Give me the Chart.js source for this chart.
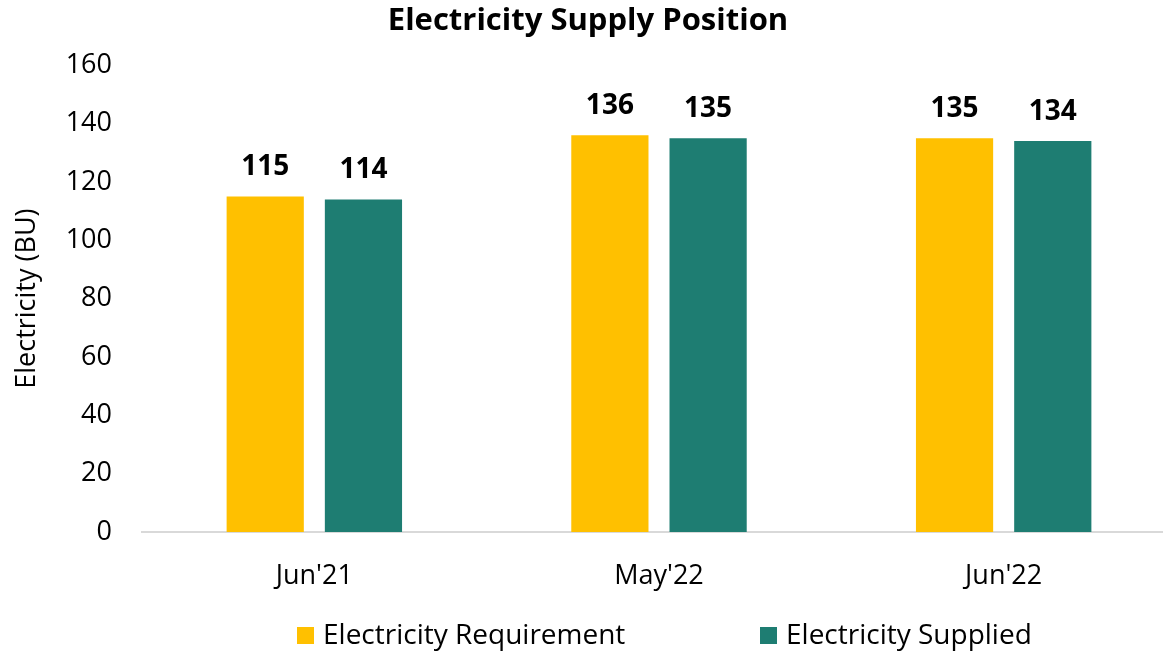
<!DOCTYPE html>
<html>
<head>
<meta charset="utf-8">
<script src="https://cdn.jsdelivr.net/npm/chart.js@4.4.0/dist/chart.umd.min.js"></script>
<style>
  html, body { margin: 0; padding: 0; background: #fff; overflow: hidden; }
  #wrap { width: 1176px; height: 654px; }
</style>
</head>
<body>
<div id="wrap"><canvas id="supplyChart" width="1176" height="654"></canvas></div>
<script>
// Electricity supply position (BU)
const categories = ["Jun'21", "May'22", "Jun'22"];
const requirement = [115, 136, 135];
const supplied = [114, 135, 134];
const seriesNames = ['Electricity Requirement', 'Electricity Supplied'];
const yTicks = [0, 20, 40, 60, 80, 100, 120, 140, 160];

const FONT = "'Open Sans', 'Noto Sans', sans-serif";
const YELLOW = '#FFC000';
const TEAL = '#1E7D72';

// value labels above each bar
const barValueLabels = {
    id: 'barValueLabels',
    afterDatasetsDraw(chart) {
        const ctx = chart.ctx;
        ctx.save();
        ctx.font = 'bold 28px ' + FONT;
        ctx.fillStyle = '#000';
        ctx.textAlign = 'center';
        ctx.textBaseline = 'middle';
        chart.data.datasets.forEach((ds, i) => {
            chart.getDatasetMeta(i).data.forEach((bar, j) => {
                ctx.fillText(String(ds.data[j]), bar.x, bar.y - 29);
            });
        });
        ctx.restore();
    }
};

// legend drawn at the bottom, spaced like the original
const bottomLegend = {
    id: 'bottomLegend',
    afterDraw(chart) {
        const ctx = chart.ctx;
        const starts = [297, 760];
        const y = 636;
        ctx.save();
        ctx.font = '28px ' + FONT;
        ctx.textBaseline = 'middle';
        ctx.textAlign = 'left';
        chart.data.datasets.forEach((ds, i) => {
            ctx.fillStyle = ds.backgroundColor;
            ctx.fillRect(starts[i], y - 9, 17, 17);
            ctx.fillStyle = '#000';
            ctx.fillText(ds.label, starts[i] + 26, y);
        });
        ctx.restore();
    }
};

const chart = new Chart(document.getElementById('supplyChart'), {
    type: 'bar',
    data: {
        labels: categories,
        datasets: [
            { label: seriesNames[0], data: requirement, backgroundColor: YELLOW },
            { label: seriesNames[1], data: supplied, backgroundColor: TEAL }
        ]
    },
    options: {
        responsive: false,
        animation: false,
        datasets: {
            bar: { categoryPercentage: 0.57, barPercentage: 0.786 }
        },
        layout: { padding: { top: 0, left: 0, right: 0, bottom: 52 } },
        plugins: {
            legend: { display: false },
            tooltip: { enabled: false },
            title: {
                display: true,
                text: 'Electricity Supply Position',
                color: '#000',
                font: { family: FONT, size: 31, weight: 'bold' },
                padding: { top: 3, bottom: 25 }
            }
        },
        scales: {
            x: {
                grid: { display: false, drawTicks: false },
                border: { display: true, color: '#D9D9D9', width: 2 },
                ticks: { color: '#000', font: { family: FONT, size: 27 }, padding: 28 },
                afterFit(scale) { scale.height = 70; }
            },
            y: {
                min: 0,
                max: 160,
                afterBuildTicks(scale) { scale.ticks = yTicks.map(v => ({ value: v })); },
                grid: { display: false, drawTicks: false },
                border: { display: false },
                ticks: { color: '#000', font: { family: FONT, size: 27 }, padding: 30 },
                title: {
                    display: true,
                    text: 'Electricity (BU)',
                    color: '#000',
                    font: { family: FONT, size: 27 },
                    padding: { top: 11, bottom: 0 }
                },
                afterFit(scale) { scale.width = 142; }
            }
        }
    },
    plugins: [barValueLabels, bottomLegend]
});
</script>
</body>
</html>
